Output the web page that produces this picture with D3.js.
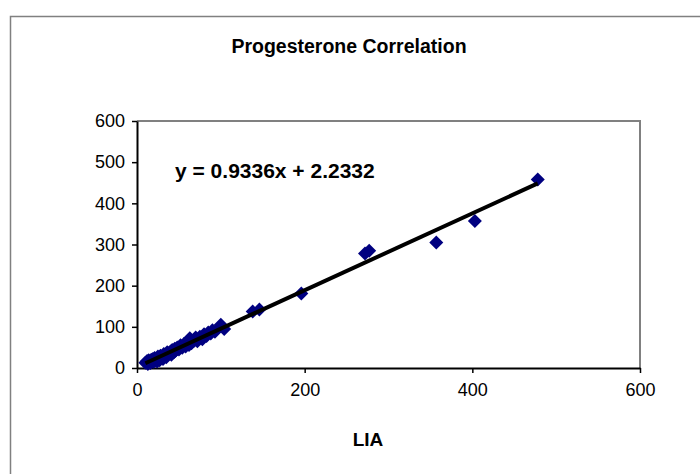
<!DOCTYPE html>
<html>
<head>
<meta charset="utf-8">
<script src="https://cdn.jsdelivr.net/npm/d3@7"></script>
<style>
  body { margin: 0; background: #fff; }
  text { font-family: "Liberation Sans", Arial, sans-serif; }
</style>
</head>
<body>
<div id="canvas"></div>
<script>
// -------------------------------------------- Data
const liaValues = [10, 12, 13, 14, 15, 16, 17, 18, 19, 20, 21, 22, 23, 24, 25, 26, 27, 28, 29, 30,
  31, 32, 33, 34, 35, 36, 37, 38, 40, 41, 42, 44, 45, 46, 48, 50, 52, 54, 56, 58,
  60, 62, 63, 65, 68, 70, 72, 75, 78, 80, 83, 85, 88, 90, 93, 100, 104, 138, 146, 196,
  272, 277, 357, 403, 478];
const otherValues = [13, 17, 10, 19, 14, 12, 20, 16, 22, 15, 24, 18, 21, 16, 28, 22, 19, 30, 25, 27,
  22, 34, 29, 31, 26, 38, 33, 36, 40, 32, 44, 38, 47, 42, 50, 45, 55, 49, 58, 52,
  63, 56, 72, 60, 66, 74, 65, 76, 70, 82, 78, 86, 84, 92, 88, 105, 95, 137, 142, 181,
  278, 285, 305, 357, 458];
const xTicks = [0, 200, 400, 600];
const yTicks = [0, 100, 200, 300, 400, 500, 600];
const slope = 0.9336;
const intercept = 2.2332;

const points = liaValues.map((d, i) => ({ x: d, y: otherValues[i] }));

// -------------------------------------------- Dimensiones
const width = 700;
const height = 474;
const plot = { left: 137, top: 121, right: 640, bottom: 368 };

const svg = d3.select("#canvas").append("svg")
  .attr("width", width)
  .attr("height", height);

// marco del grafico
svg.append("rect")
  .attr("x", 10.5).attr("y", 16.5)
  .attr("width", 720).attr("height", 500)
  .attr("fill", "#fff")
  .attr("stroke", "#808080")
  .attr("stroke-width", 1.5);

// ----- Escalas
const x = d3.scaleLinear().domain([0, 600]).range([plot.left, plot.right]);
const y = d3.scaleLinear().domain([0, 600]).range([plot.bottom, plot.top]);

// borde del area (gris arriba y derecha)
svg.append("path")
  .attr("d", `M${plot.left},${plot.top}H${plot.right}V${plot.bottom}`)
  .attr("fill", "none")
  .attr("stroke", "#808080")
  .attr("stroke-width", 2);

// -- Eje X
const xAxis = svg.append("g")
  .attr("transform", `translate(0,${plot.bottom})`)
  .call(d3.axisBottom(x).tickValues(xTicks).tickSize(5).tickSizeOuter(0).tickPadding(10));

// -- Eje Y
const yAxis = svg.append("g")
  .attr("transform", `translate(${plot.left},0)`)
  .call(d3.axisLeft(y).tickValues(yTicks).tickSize(5).tickSizeOuter(0).tickPadding(7));

[xAxis, yAxis].forEach((a) => {
  a.select(".domain").attr("stroke", "#000").attr("stroke-width", 2);
  a.selectAll(".tick line").attr("stroke", "#000").attr("stroke-width", 1.5);
  a.selectAll(".tick text")
    .attr("fill", "#000")
    .style("font-size", "18px")
    .style("font-family", "'Liberation Sans', Arial, sans-serif");
});

// -- Puntos (rombos)
const r = 7;
const diamond = `M0,${-r}L${r},0L0,${r}L${-r},0Z`;

svg.append("g")
  .selectAll("path")
  .data(points)
  .enter()
  .append("path")
  .attr("d", diamond)
  .attr("transform", (d) => `translate(${x(d.x)},${y(d.y)})`)
  .attr("fill", "#000080");

// -- Linea de tendencia
const xExtent = d3.extent(liaValues);
const line = d3.line().x((d) => x(d)).y((d) => y(slope * d + intercept));

svg.append("path")
  .datum(xExtent)
  .attr("d", line)
  .attr("fill", "none")
  .attr("stroke", "#000")
  .attr("stroke-width", 4);

// -- Textos
svg.append("text")
  .attr("x", 349).attr("y", 53)
  .attr("text-anchor", "middle")
  .style("font-size", "19.5px")
  .style("font-weight", "bold")
  .text("Progesterone Correlation");

svg.append("text")
  .attr("x", 175).attr("y", 178)
  .style("font-size", "21px")
  .style("font-weight", "bold")
  .text(`y = ${slope}x + ${intercept}`);

svg.append("text")
  .attr("x", 368).attr("y", 446)
  .attr("text-anchor", "middle")
  .style("font-size", "19px")
  .style("font-weight", "bold")
  .text("LIA");
</script>
</body>
</html>
